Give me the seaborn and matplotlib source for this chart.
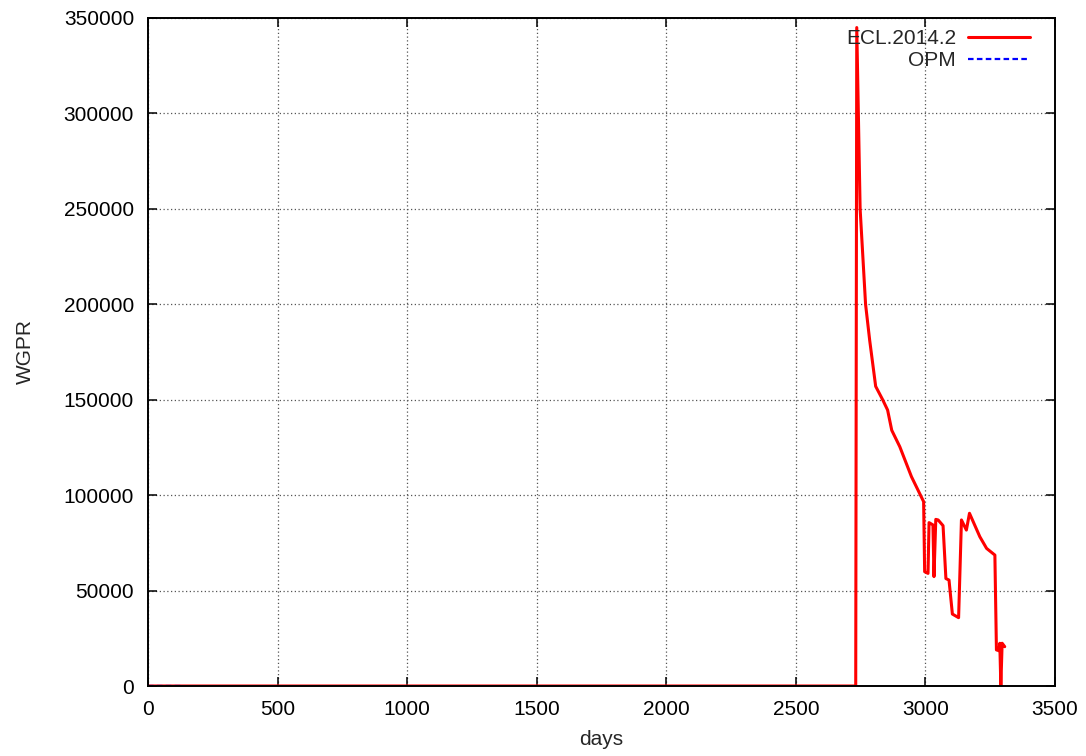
import matplotlib
matplotlib.use("Agg")
import matplotlib.pyplot as plt
import seaborn as sns
import pandas as pd
import numpy as np

ecl_days = [0, 2731, 2735, 2748, 2769, 2785, 2808, 2835, 2854, 2870, 2901, 2946,
            2993, 2997, 3010, 3014, 3029, 3033, 3040, 3049, 3068, 3079, 3091,
            3104, 3128, 3139, 3158, 3170, 3210, 3236, 3268, 3274, 3284, 3287,
            3291, 3296, 3306]
ecl_wgpr = [0, 0, 345000, 250000, 200000, 181000, 157000, 150000, 144600, 134000,
            125400, 109700, 96600, 59900, 59000, 85600, 84400, 57300, 87300,
            87000, 84000, 56300, 55500, 37700, 35800, 87000, 81700, 90500,
            78200, 72100, 68600, 18900, 18500, 22400, 0, 22400, 20600]
opm_days = [0, 30, 60, 90, 136]
opm_wgpr = [0, 0, 0, 0, 0]

sns.set_style("white")
plt.rcParams['font.family'] = ['Liberation Sans', 'DejaVu Sans']

fig = plt.figure(figsize=(10.86, 7.56), dpi=100)
ax = fig.add_axes([148/1086, 1-686/756, (1055-148)/1086, (686-18)/756])

df_ecl = pd.DataFrame({"days": ecl_days, "WGPR": ecl_wgpr})
df_opm = pd.DataFrame({"days": opm_days, "WGPR": opm_wgpr})

sns.lineplot(data=df_ecl, x="days", y="WGPR", ax=ax, color="#ff0000", lw=2.2,
             label="ECL.2014.2", estimator=None, sort=False)
sns.lineplot(data=df_opm, x="days", y="WGPR", ax=ax, color="#0000ff", lw=1.6,
             linestyle=(0, (2.5, 1.5)), label="OPM", estimator=None, sort=False)

ax.set_xlim(0, 3500)
ax.set_ylim(0, 350000)
ax.set_xticks(np.arange(0, 3501, 500))
ax.set_yticks(np.arange(0, 350001, 50000))
ax.grid(True, color="#555555", linestyle=(0, (1, 2)), lw=0.9)
for s in ax.spines.values():
    s.set_color("black")
    s.set_linewidth(1.4)
    s.set_visible(True)
ax.tick_params(direction="in", length=6.5, width=1.1, top=True, right=True,
               bottom=True, left=True, labelsize=15, colors="black", pad=10)
ax.set_xlabel("days", fontsize=15, labelpad=8)
ax.set_ylabel("WGPR", fontsize=15, labelpad=21)

leg = ax.legend(loc="upper right", frameon=False, fontsize=15, markerfirst=False,
                handlelength=3.0, handletextpad=0.55, borderaxespad=0,
                borderpad=0, labelspacing=0.15, alignment="right",
                bbox_to_anchor=((1030-148)/907, (686-29)/668))
for t in leg.get_texts():
    t.set_ha("right")

fig.savefig("out.png", dpi=100)
